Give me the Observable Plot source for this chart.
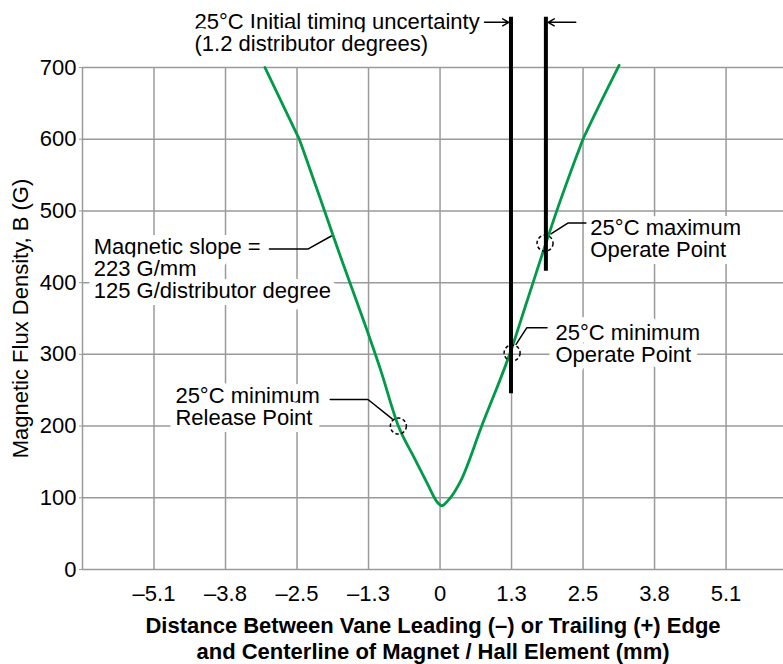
<!DOCTYPE html>
<html><head><meta charset="utf-8">
<script src="https://cdn.jsdelivr.net/npm/d3@7"></script>
<script src="https://cdn.jsdelivr.net/npm/@observablehq/plot@0.6"></script>
<style>body{margin:0;background:#fff}</style>
</head><body><div id="chart"></div>
<script>
// Axis ticks
const xTicks = [-5.08, -3.81, -2.54, -1.27, 0, 1.27, 2.54, 3.81, 5.08];
const xTickLabels = ["–5.1", "–3.8", "–2.5", "–1.3", "0", "1.3", "2.5", "3.8", "5.1"];
const yTicks = [0, 100, 200, 300, 400, 500, 600, 700];
const xTitle = "Distance Between Vane Leading (–) or Trailing (+) Edge\nand Centerline of Magnet / Hall Element (mm)";
const yTitle = "Magnetic Flux Density, B (G)";

// Flux density curve (mm, G)
const curveX = [-3.11, -2.56, -2.5, -2.44, -2.06, -1.87, -1.05, -0.74, -0.46, -0.22, -0.06, 0.03, 0.14, 0.37, 0.73, 1.28, 1.54, 2.13, 2.49, 2.55, 2.61, 3.18];
const curveB = [700, 610, 600, 587, 502, 459, 277, 200, 156, 119, 95, 89, 96, 124, 198, 310, 373, 513, 590, 602, 612, 703];

// Marked points (dashed circles)
const pointX = [-0.74, 1.28, 1.865];
const pointB = [200, 302, 455];

// Timing uncertainty lines
const timingX = [1.26, 1.88];
const timingTop = [770, 770];
const timingBottom = [245, 416];
const arrowX1 = [0.79, 2.41];
const arrowX2 = [1.22, 1.92];
const arrowB = [763, 763];

// Annotations
const annotText = [
  "25°C Initial timing uncertainty\n(1.2 distributor degrees)",
  "Magnetic slope =\n223 G/mm\n125 G/distributor degree",
  "25°C minimum\nRelease Point",
  "25°C minimum\nOperate Point",
  "25°C maximum\nOperate Point"
];
const annotX = [-4.36, -6.15, -4.70, 2.05, 2.67];
const annotB = [748, 419, 226, 315, 461];

// Leader polylines
const leaderId = [0, 0, 0, 1, 1, 1, 2, 2, 2, 3, 3, 3];
const leaderX = [-3.03, -2.34, -1.93, -1.95, -1.28, -0.85, 1.35, 1.54, 1.90, 1.97, 2.27, 2.59];
const leaderB = [447, 447, 465, 237, 237, 210, 314, 337, 337, 468, 483, 483];

const gray = "#9a9a9a";
const green = "#009a48";
const idx = n => Array.from({length: n}, (_, i) => i);

const chart = Plot.plot({
  width: 783, height: 664,
  marginLeft: 82, marginRight: 0, marginTop: 67, marginBottom: 95,
  x: {domain: [-6.35, 6.1]},
  y: {domain: [0, 700]},
  style: {fontFamily: "'Liberation Sans', Arial, sans-serif", fontSize: "22px", background: "white", overflow: "visible", color: "black"},
  marks: [
    Plot.gridX(xTicks, {stroke: gray, strokeOpacity: 1, strokeWidth: 1.5}),
    Plot.gridY(yTicks.filter(d => d > 0), {stroke: gray, strokeOpacity: 1, strokeWidth: 1.5}),
    Plot.ruleX([-6.35], {stroke: gray, strokeWidth: 1.5}),
    Plot.ruleY([0], {stroke: gray, strokeWidth: 1.5}),
    Plot.axisX(xTicks, {tickFormat: d => xTickLabels[xTicks.indexOf(d)], tickSize: 0, tickPadding: 16, label: null, fontSize: 22}),
    Plot.axisY(yTicks, {tickSize: 3, tickPadding: 3, label: null, stroke: gray, fontSize: 22}),
    Plot.text([xTitle], {frameAnchor: "bottom", lineAnchor: "middle", textAnchor: "middle", dy: 68, fontWeight: "bold", lineHeight: 1.18, fontSize: 22}),
    Plot.text([yTitle], {frameAnchor: "left", rotate: -90, textAnchor: "middle", lineAnchor: "middle", dx: -62, fontSize: 22}),
    Plot.text(idx(annotText.length), {
      x: i => annotX[i], y: i => annotB[i], text: i => annotText[i],
      textAnchor: "start", lineAnchor: "middle", lineHeight: 1.0, fontSize: 22,
      fill: "black", stroke: "white", strokeWidth: 14, strokeLinejoin: "round", paintOrder: "stroke"
    }),
    Plot.line(idx(leaderId.length), {x: i => leaderX[i], y: i => leaderB[i], z: i => leaderId[i], stroke: "black", strokeWidth: 1.5}),
    Plot.line(idx(curveX.length), {x: i => curveX[i], y: i => curveB[i], stroke: green, strokeWidth: 2.8, curve: "monotone-x"}),
    Plot.ruleX(idx(timingX.length), {x: i => timingX[i], y1: i => timingBottom[i], y2: i => timingTop[i], stroke: "black", strokeWidth: 4}),
    Plot.arrow(idx(arrowX1.length), {x1: i => arrowX1[i], x2: i => arrowX2[i], y1: i => arrowB[i], y2: i => arrowB[i], stroke: "black", strokeWidth: 1.5, headLength: 7}),
    Plot.dot(idx(pointX.length), {x: i => pointX[i], y: i => pointB[i], r: 8, stroke: "black", fill: "none", strokeWidth: 1.5, strokeDasharray: "3.5,2.5"})
  ]
});
document.getElementById("chart").append(chart);
</script>
</body></html>
